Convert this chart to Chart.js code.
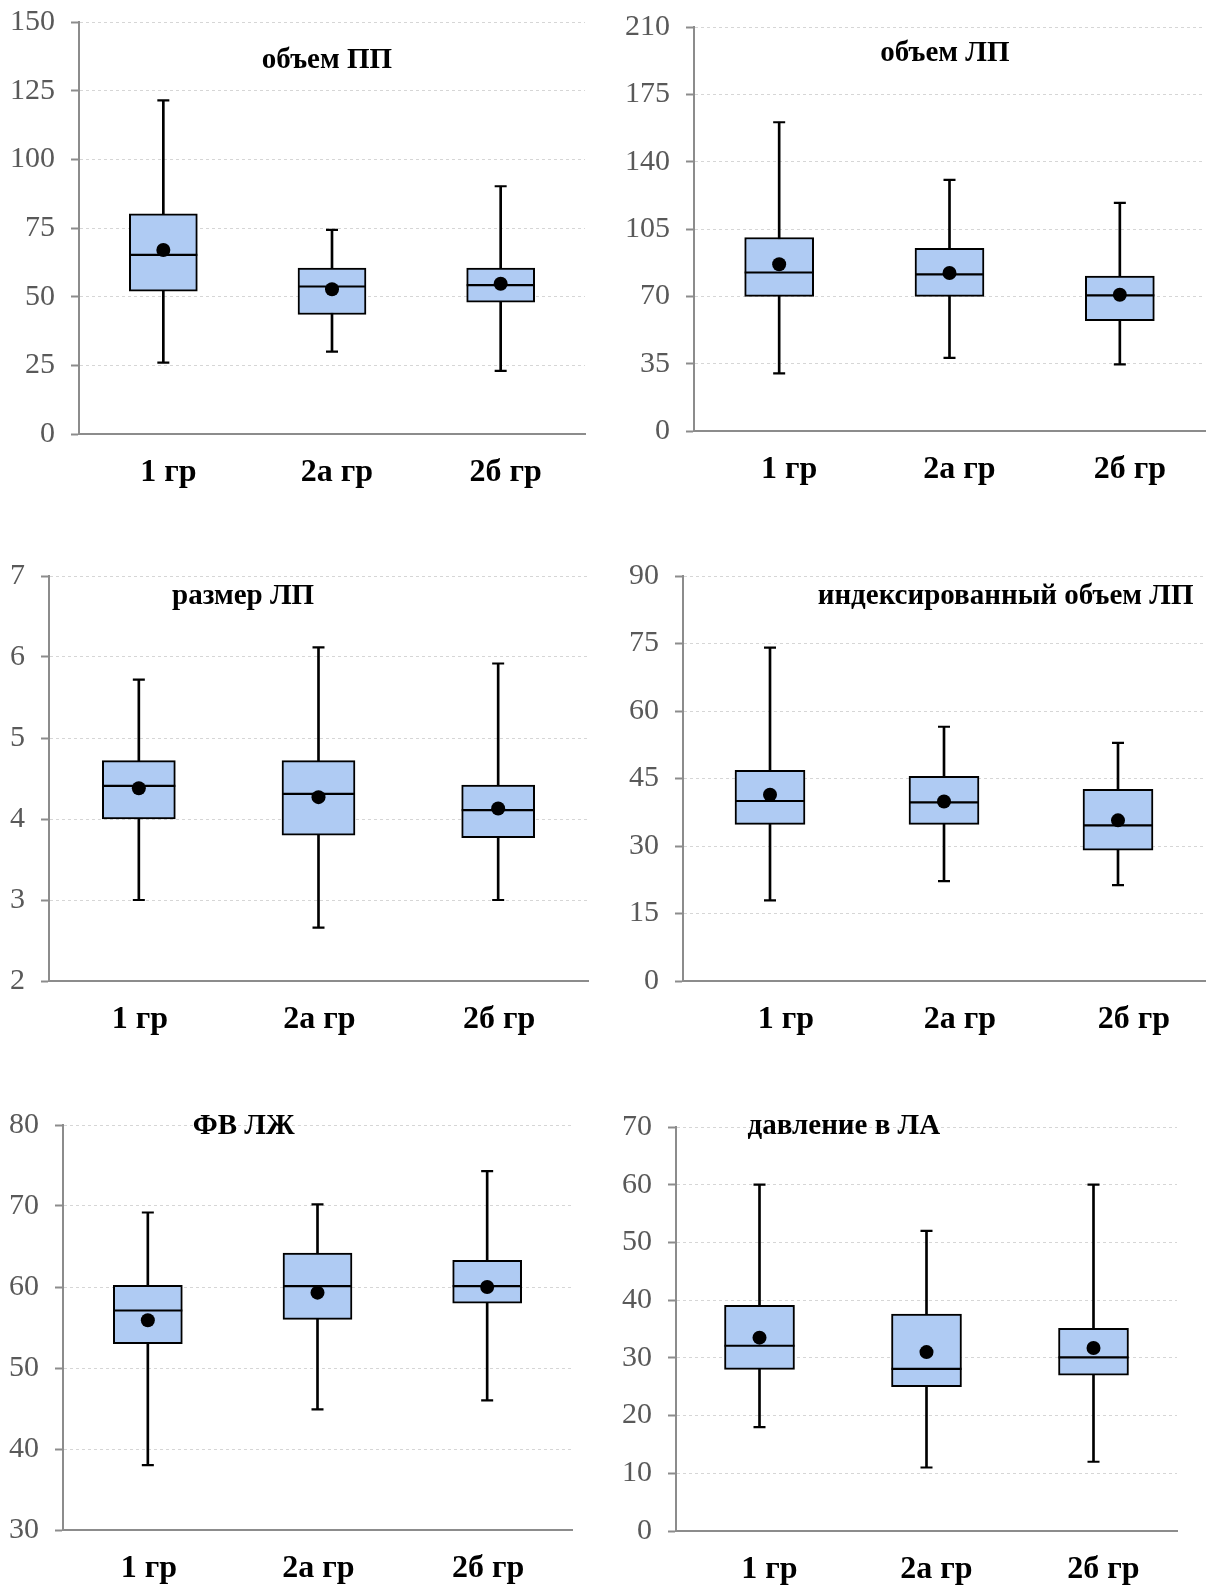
<!DOCTYPE html>
<html lang="ru">
<head>
<meta charset="utf-8">
<title>Объемы и размеры</title>
<script src="https://cdn.jsdelivr.net/npm/chart.js@4.4.1/dist/chart.umd.min.js"></script>
<style>
  html, body { margin: 0; padding: 0; background: #fff; }
  body { width: 1214px; height: 1586px; position: relative; overflow: hidden; }
  .panel { position: absolute; }
</style>
</head>
<body>
<div class="panel" id="p1"><canvas id="c1"></canvas></div>
<div class="panel" id="p2"><canvas id="c2"></canvas></div>
<div class="panel" id="p3"><canvas id="c3"></canvas></div>
<div class="panel" id="p4"><canvas id="c4"></canvas></div>
<div class="panel" id="p5"><canvas id="c5"></canvas></div>
<div class="panel" id="p6"><canvas id="c6"></canvas></div>
<script>
const groups = ["1 гр", "2а гр", "2б гр"];

/* объем ПП */
const ppTicks = [0, 25, 50, 75, 100, 125, 150];
const ppWhisker = [[26, 121.5], [30, 74.3], [23, 90.2]];
const ppBox = [[52, 80.2], [43.5, 60.4], [48, 60.4]];
const ppMedian = [65.2, 53.7, 54.2];
const ppMean = [67, 52.7, 54.7];

/* объем ЛП */
const lpTicks = [0, 35, 70, 105, 140, 175, 210];
const lpWhisker = [[30, 160.5], [38, 130.5], [34.6, 118.6]];
const lpBox = [[70, 100.6], [70, 95], [57.3, 80.5]];
const lpMedian = [82.4, 81.4, 70.5];
const lpMean = [86.7, 82.1, 70.8];

/* размер ЛП */
const sizeTicks = [2, 3, 4, 5, 6, 7];
const sizeWhisker = [[3.0, 5.72], [2.66, 6.12], [3.0, 5.92]];
const sizeBox = [[4.0, 4.72], [3.8, 4.72], [3.77, 4.42]];
const sizeMedian = [4.41, 4.31, 4.11];
const sizeMean = [4.38, 4.27, 4.13];

/* индексированный объем ЛП */
const indexTicks = [0, 15, 30, 45, 60, 75, 90];
const indexWhisker = [[17.9, 74.1], [22.2, 56.5], [21.3, 52.9]];
const indexBox = [[34.8, 46.8], [34.8, 45.5], [29.1, 42.6]];
const indexMedian = [40, 39.7, 34.6];
const indexMean = [41.4, 39.9, 35.7];

/* ФВ ЛЖ */
const efTicks = [30, 40, 50, 60, 70, 80];
const efWhisker = [[38, 69.2], [44.9, 70.2], [46, 74.3]];
const efBox = [[53, 60.2], [56, 64.2], [58, 63.3]];
const efMedian = [57.1, 60.1, 60.1];
const efMean = [55.9, 59.3, 60];

/* давление в ЛА */
const paTicks = [0, 10, 20, 30, 40, 50, 60, 70];
const paWhisker = [[18, 60], [11, 52], [12, 60]];
const paBox = [[28, 39.1], [25, 37.6], [27, 35.1]];
const paMedian = [32.1, 28.1, 30.1];
const paMean = [33.5, 31, 31.7];

/* LAYOUT */
const Y_AXIS_W = 80;
const X_AXIS_H = 70;
const PAD_TOP = 40;
const SERIF = "'Liberation Serif', 'Times New Roman', serif";

const panels = [
  { id: 1, title: "объем ПП", ticks: ppTicks, whisker: ppWhisker, box: ppBox, median: ppMedian, mean: ppMean,
    area: [79, 21.7, 592, 433.3], titleX: 0.49, titleY: 39, boxW: 68, labelShift: 5 },
  { id: 2, title: "объем ЛП", ticks: lpTicks, whisker: lpWhisker, box: lpBox, median: lpMedian, mean: lpMean,
    area: [694, 27.3, 1212, 431.7], titleX: 0.491, titleY: 27, boxW: 69, labelShift: 10 },
  { id: 3, title: "размер ЛП", ticks: sizeTicks, whisker: sizeWhisker, box: sizeBox, median: sizeMedian, mean: sizeMean,
    area: [48.6, 576, 595, 980.7], titleX: 0.36, titleY: 21, boxW: 73, labelShift: 1 },
  { id: 4, title: "индексированный объем ЛП", ticks: indexTicks, whisker: indexWhisker, box: indexBox, median: indexMedian, mean: indexMean,
    area: [683, 576, 1212, 980.7], titleX: 0.618, titleY: 21, boxW: 70, labelShift: 16 },
  { id: 5, title: "ФВ ЛЖ", ticks: efTicks, whisker: efWhisker, box: efBox, median: efMedian, mean: efMean,
    area: [62.7, 1125, 579, 1530], titleX: 0.355, titleY: 2, boxW: 69, labelShift: 1 },
  { id: 6, title: "давление в ЛА", ticks: paTicks, whisker: paWhisker, box: paBox, median: paMedian, mean: paMean,
    area: [676, 1127.3, 1184, 1531], titleX: 0.335, titleY: 0, boxW: 70, labelShift: 10 }
];

/* MEDIAN, CAPS, TITLE */
const boxExtras = {
  id: "boxExtras",
  afterDatasetDraw(chart, args, opts) {
    if (args.index !== 1) return;
    const ctx = chart.ctx;
    const y = chart.scales.y;
    const whiskers = chart.getDatasetMeta(0).data;
    const boxes = chart.getDatasetMeta(1).data;
    ctx.save();
    ctx.strokeStyle = "#000";
    ctx.lineWidth = 2.2;
    ctx.beginPath();
    boxes.forEach((bar, i) => {
      const half = bar.width / 2;
      const ym = y.getPixelForValue(opts.median[i]);
      ctx.moveTo(bar.x - half, ym);
      ctx.lineTo(bar.x + half, ym);
    });
    whiskers.forEach((bar, i) => {
      opts.whisker[i].forEach(v => {
        const yc = y.getPixelForValue(v);
        ctx.moveTo(bar.x - 6, yc);
        ctx.lineTo(bar.x + 6, yc);
      });
    });
    ctx.stroke();
    ctx.restore();
  },
  afterDraw(chart, args, opts) {
    const { ctx, chartArea } = chart;
    ctx.save();
    ctx.font = "bold 29px " + SERIF;
    ctx.fillStyle = "#000";
    ctx.textAlign = "center";
    ctx.textBaseline = "middle";
    ctx.fillText(opts.title, chartArea.left + opts.titleX * (chartArea.right - chartArea.left), chartArea.top + opts.titleY);
    ctx.restore();
  }
};

function makeChart(p) {
  const [left, top, right, bottom] = p.area;
  const boxLeft = left - Y_AXIS_W;
  const boxTop = top - PAD_TOP;
  const w = Math.round(right - boxLeft);
  const h = Math.round(bottom - boxTop + X_AXIS_H);

  const holder = document.getElementById("p" + p.id);
  holder.style.left = boxLeft + "px";
  holder.style.top = boxTop + "px";
  const canvas = document.getElementById("c" + p.id);
  canvas.width = w;
  canvas.height = h;
  canvas.style.width = w + "px";
  canvas.style.height = h + "px";

  new Chart(canvas, {
    type: "bar",
    data: {
      labels: groups,
      datasets: [
        {
          data: p.whisker,
          backgroundColor: "#000",
          barThickness: 2,
          grouped: false,
          order: 2
        },
        {
          data: p.box,
          backgroundColor: "#afcbf3",
          borderColor: "#000",
          borderWidth: 2,
          borderSkipped: false,
          barThickness: p.boxW,
          grouped: false,
          order: 1
        },
        {
          type: "line",
          data: p.mean,
          showLine: false,
          pointRadius: 7,
          pointHoverRadius: 7,
          pointBorderWidth: 0,
          pointBackgroundColor: "#000",
          borderColor: "#000",
          order: 0
        }
      ]
    },
    options: {
      responsive: false,
      animation: false,
      events: [],
      layout: { padding: { top: PAD_TOP, right: 0, bottom: 0, left: 0 } },
      plugins: {
        legend: { display: false },
        tooltip: { enabled: false },
        boxExtras: { median: p.median, whisker: p.whisker, title: p.title, titleX: p.titleX, titleY: p.titleY }
      },
      scales: {
        x: {
          afterFit(scale) { scale.height = X_AXIS_H; },
          grid: { display: false, drawTicks: false },
          border: { display: true, color: "#8c8c8c", width: 2 },
          ticks: { color: "#000", padding: 20, labelOffset: p.labelShift, font: { family: SERIF, size: 32, weight: "bold" } }
        },
        y: {
          min: p.ticks[0],
          max: p.ticks[p.ticks.length - 1],
          afterFit(scale) { scale.width = Y_AXIS_W; },
          afterBuildTicks(scale) { scale.ticks = p.ticks.map(v => ({ value: v })); },
          grid: { color: "#d6d6d6", lineWidth: 1, tickColor: "#8c8c8c", tickLength: 8, tickWidth: 2 },
          border: { display: true, color: "#8c8c8c", width: 2, dash: [3, 3] },
          ticks: { color: "#595959", padding: 16, font: { family: SERIF, size: 30 } }
        }
      }
    },
    plugins: [boxExtras]
  });
}

panels.forEach(makeChart);
</script>
</body>
</html>
